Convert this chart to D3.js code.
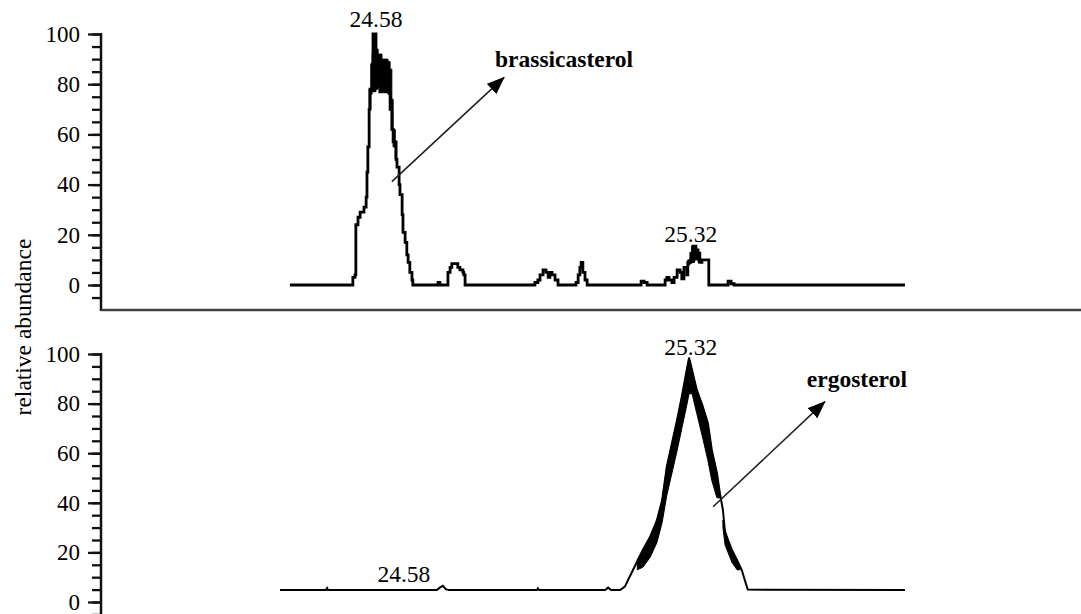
<!DOCTYPE html>
<html>
<head>
<meta charset="utf-8">
<script src="https://cdn.jsdelivr.net/npm/d3@7"></script>
<style>
  html, body { margin: 0; padding: 0; background: #fff; }
  svg { display: block; }
</style>
</head>
<body>
<svg id="chart" width="1081" height="614"></svg>
<script>
// ---------------- DATA (retention time in min, relative abundance in %) ----------------
const yTicksMajor = [0, 20, 40, 60, 80, 100];
const yTicksMinor = [-5, 0, 5, 10, 15, 20, 25, 30, 35, 40, 45, 50, 55, 60, 65, 70, 75, 80, 85, 90, 95, 100];

// Panel 1: brassicasterol chromatogram
const topTime = [24.379, 24.522, 24.526, 24.531, 24.533, 24.538, 24.543, 24.552, 24.557, 24.559, 24.561, 24.564,
  24.566, 24.571, 24.573, 24.578, 24.580, 24.585, 24.589, 24.594, 24.601, 24.608, 24.613, 24.617, 24.620, 24.627,
  24.629, 24.634, 24.636, 24.641, 24.643, 24.648, 24.652, 24.655, 24.659, 24.664, 24.666,
  24.720, 24.725, 24.729, 24.746, 24.748, 24.753, 24.757, 24.767, 24.771, 24.776, 24.783, 24.785, 24.788,
  24.944, 24.951, 24.958, 24.963, 24.970, 24.977, 24.982, 24.986, 24.991, 24.998, 25.005,
  25.042, 25.047, 25.052, 25.056, 25.059, 25.063, 25.068, 25.073,
  25.192, 25.199, 25.206, 25.213,
  25.248, 25.255, 25.259, 25.264, 25.271, 25.276, 25.283, 25.290, 25.294, 25.299, 25.306, 25.308, 25.315,
  25.320, 25.327, 25.332, 25.336, 25.341, 25.353, 25.357,
  25.397, 25.402, 25.409, 25.416, 25.815];
const topValue = [0, 0, 3, 4, 24, 27, 29, 31, 35, 45, 55, 70,
  78, 88, 100, 100, 80, 80, 77, 79, 77, 77, 70, 62, 57, 50,
  47, 40, 36, 28, 21, 17, 12, 9, 5, 2, 0,
  0, 1, 0, 0, 5, 7, 8.5, 8.5, 7, 6, 5, 4, 0,
  0, 1, 2, 4, 6, 5, 3, 5, 4, 2, 0,
  0, 1, 4, 7, 9, 5, 2, 0,
  0, 1.5, 1, 0,
  0, 2, 3, 2, 1, 3, 6, 5, 2.5, 7, 4, 9, 10,
  15.5, 14, 12.7, 9, 10, 10, 0,
  0, 1.5, 0.5, 0, 0];
// thick (noisy) parts of the panel-1 trace
const topBandTime = [24.564, 24.568, 24.571, 24.573, 24.580, 24.585, 24.594, 24.608, 24.613, 24.617, 24.620, 24.625];
const topBandLo = [70, 76, 77, 77, 78, 79, 77, 76, 70, 62, 55, 50];
const topBandHi = [78, 88, 92, 100, 94, 92, 90, 89, 86, 74, 62, 50];
const topBand2Time = [25.308, 25.313, 25.317, 25.324, 25.332, 25.336];
const topBand2Lo = [8, 9, 9, 10, 9, 9];
const topBand2Hi = [10, 13, 15.5, 14, 12.5, 10];

// Panel 2: ergosterol chromatogram
const botTime = [24.356, 24.463, 24.466, 24.468, 24.722, 24.729, 24.736, 24.743, 24.750,
  24.956, 24.958, 24.961, 25.115, 25.122, 25.129, 25.150, 25.161, 25.180, 25.203, 25.220,
  25.236, 25.248, 25.259, 25.271, 25.283, 25.294, 25.304, 25.311, 25.318, 25.329, 25.343,
  25.355, 25.364, 25.376, 25.383, 25.390, 25.395, 25.411, 25.423, 25.434, 25.441, 25.448, 25.815];
const botValue = [4.8, 4.8, 5.6, 4.8, 4.8, 5.8, 6.5, 5.2, 4.8,
  4.8, 5.5, 4.8, 4.8, 5.8, 4.8, 4.8, 6.2, 12.9, 21, 26.3,
  33, 41, 54.6, 64, 73.4, 82.8, 92.2, 98.5, 93.5, 85.5, 78.8,
  72, 61.3, 51.9, 43.8, 37.1, 27.7, 21, 16.9, 12.9, 8.9, 5, 4.8];
const botBandTime = [25.190, 25.203, 25.220, 25.236, 25.248, 25.259, 25.271, 25.283, 25.294, 25.304, 25.311, 25.318,
  25.329, 25.343, 25.355, 25.364, 25.376, 25.383];
const botBandLo = [13, 14, 18, 24, 32, 43, 52, 61, 70, 78, 84, 84, 76, 66, 57, 49, 42, 42];
const botBandHi = [17, 21, 26.3, 33, 41, 54.6, 64, 73.4, 82.8, 92.2, 98.5, 93.5, 85.5, 78.8, 72, 61.3, 51.9, 43.8];
const botBand2Time = [25.390, 25.395, 25.411, 25.423, 25.430];
const botBand2Lo = [30, 23, 16, 13, 13];
const botBand2Hi = [33, 29, 21, 16.9, 14];

// Peak labels
const peakLabelText = ["24.58", "25.32", "25.32", "24.58"];
const peakLabelPanel = [0, 0, 1, 1];
const peakLabelTime = [24.58, 25.315, 25.315, 24.645];
const peakLabelValue = [102.8, 17.3, 99.6, 8.1];

// Compound annotations with arrows
const compoundName = ["brassicasterol", "ergosterol"];
const compoundPanel = [0, 1];
const arrowFromTime = [24.617, 25.367];
const arrowFromValue = [41.2, 38.4];
const arrowToTime = [24.879, 25.628];
const arrowToValue = [82.7, 80.8];
const nameTime = [24.858, 25.586];
const nameValue = [87.0, 86.7];

const yAxisTitle = "relative abundance";

// ---------------- LAYOUT ----------------
const FONT = '"Liberation Serif", "Times New Roman", Times, "DejaVu Serif", serif';
const svg = d3.select("#chart");
const axisX = 101;
const x = d3.scaleLinear().domain([23.938, 26.226]).range([101, 1081]);
const yTop = d3.scaleLinear().domain([0, 100]).range([285, 34]);
const yBot = d3.scaleLinear().domain([0, 100]).range([602, 354]);
const yScales = [yTop, yBot];

function drawYAxis(y, yEnd) {
  const g = svg.append("g").attr("transform", `translate(${axisX},0)`);
  g.call(d3.axisLeft(y).tickValues(yTicksMinor).tickSize(9).tickFormat(""))
    .call(s => s.select(".domain").remove())
    .call(s => s.selectAll("line").attr("stroke", "#111").attr("stroke-width", 2.3));
  const gm = svg.append("g").attr("transform", `translate(${axisX},0)`);
  gm.call(d3.axisLeft(y).tickValues(yTicksMajor).tickSize(13).tickPadding(8).tickFormat(d3.format("d")))
    .call(s => s.select(".domain").remove())
    .call(s => s.selectAll("line").attr("stroke", "#111").attr("stroke-width", 2.3))
    .call(s => s.selectAll("text")
      .style("font-family", FONT)
      .style("font-size", "23px").style("fill", "#000"));
  svg.append("line")
    .attr("x1", axisX).attr("x2", axisX)
    .attr("y1", y(100) - 1).attr("y2", yEnd)
    .attr("stroke", "#111").attr("stroke-width", 2.5);
}
drawYAxis(yTop, 311);
drawYAxis(yBot, 614);

// x baseline of top panel
svg.append("line")
  .attr("x1", axisX).attr("x2", 1081).attr("y1", 310).attr("y2", 310)
  .attr("stroke", "#444").attr("stroke-width", 2.4);

// ---------------- TRACES ----------------
function band(times, lo, hi, y, curve) {
  const d = times.map((t, i) => ({ t, lo: lo[i], hi: hi[i] }));
  svg.append("path").datum(d)
    .attr("d", d3.area().x(p => x(p.t)).y0(p => y(p.lo)).y1(p => y(p.hi)).curve(curve))
    .attr("fill", "#000").attr("stroke", "#000").attr("stroke-width", 1);
}
function trace(times, vals, y, curve, width) {
  const d = times.map((t, i) => ({ t, v: vals[i] }));
  svg.append("path").datum(d)
    .attr("d", d3.line().x(p => x(p.t)).y(p => y(p.v)).curve(curve))
    .attr("fill", "none").attr("stroke", "#000")
    .attr("stroke-width", width).attr("stroke-linejoin", "miter");
}
band(topBandTime, topBandLo, topBandHi, yTop, d3.curveStepAfter);
band(topBand2Time, topBand2Lo, topBand2Hi, yTop, d3.curveStepAfter);
trace(topTime, topValue, yTop, d3.curveStepAfter, 2.8);

band(botBandTime, botBandLo, botBandHi, yBot, d3.curveLinear);
band(botBand2Time, botBand2Lo, botBand2Hi, yBot, d3.curveLinear);
trace(botTime, botValue, yBot, d3.curveLinear, 2);

// ---------------- ANNOTATIONS ----------------
peakLabelText.forEach((txt, i) => {
  const y = yScales[peakLabelPanel[i]];
  svg.append("text")
    .attr("x", x(peakLabelTime[i])).attr("y", y(peakLabelValue[i]))
    .attr("text-anchor", "middle")
    .style("font-family", FONT).style("font-size", "23.5px").style("fill", "#000")
    .text(txt);
});

svg.append("defs").append("marker")
  .attr("id", "arrow").attr("markerUnits", "userSpaceOnUse")
  .attr("markerWidth", 18).attr("markerHeight", 14)
  .attr("refX", 17).attr("refY", 7).attr("orient", "auto")
  .append("path").attr("d", "M0,0 L18,7 L0,14 Z").attr("fill", "#000");

compoundName.forEach((name, i) => {
  const y = yScales[compoundPanel[i]];
  svg.append("line")
    .attr("x1", x(arrowFromTime[i])).attr("y1", y(arrowFromValue[i]))
    .attr("x2", x(arrowToTime[i])).attr("y2", y(arrowToValue[i]))
    .attr("stroke", "#222").attr("stroke-width", 1.6)
    .attr("marker-end", "url(#arrow)");
  svg.append("text")
    .attr("x", x(nameTime[i])).attr("y", y(nameValue[i]))
    .style("font-family", FONT).style("font-size", "23.5px").style("font-weight", "bold").style("fill", "#000")
    .text(name);
});

svg.append("text")
  .attr("transform", "translate(31,327) rotate(-90)")
  .attr("text-anchor", "middle")
  .style("font-family", FONT).style("font-size", "23.5px").style("fill", "#000")
  .text(yAxisTitle);
</script>
</body>
</html>
